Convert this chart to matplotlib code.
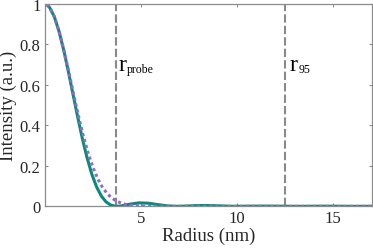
import matplotlib
matplotlib.use("Agg")
import matplotlib.pyplot as plt

# values
radius_airy = [0.1, 0.245, 0.49, 0.735, 0.98, 1.225, 1.47, 1.716, 1.96, 2.206, 2.45,
               2.696, 2.94, 3.186, 3.43, 3.676, 3.92, 4.41, 4.90, 5.39, 5.88, 6.37,
               6.86, 7.35, 7.84, 8.33, 8.82, 9.8, 11.39, 13.04, 14.5, 16.15, 17.0]
intensity_airy = [0.997, 0.984, 0.939, 0.867, 0.775, 0.667, 0.553, 0.440, 0.333, 0.238, 0.158,
                  0.096, 0.0511, 0.0220, 0.0062, 0.0003, 0.0011, 0.0105, 0.0172, 0.0154, 0.0085, 0.0022,
                  0.0, 0.0013, 0.0034, 0.0041, 0.0030, 0.0001, 0.0012, 0.0, 0.0007, 0.0, 0.0002]

radius_gauss = [0.1, 0.25, 0.5, 0.75, 1.0, 1.25, 1.5, 1.75, 2.0, 2.25, 2.5, 2.75, 3.0,
                3.25, 3.5, 3.75, 4.0, 4.25, 4.5, 5.0, 5.5, 6.0, 7.0, 17.0]
intensity_gauss = [0.997, 0.984, 0.937, 0.863, 0.769, 0.664, 0.554, 0.448, 0.350, 0.265, 0.194,
                   0.137, 0.094, 0.0625, 0.0401, 0.0249, 0.0150, 0.0087, 0.0049, 0.0014, 0.0004,
                   0.0001, 0.0, 0.0]

r_probe = 3.73
r_95 = 12.5
xticks = [5, 10, 15]
yticks = [0, 0.2, 0.4, 0.6, 0.8, 1]
ytick_labels = ["0", "0.2", "0.4", "0.6", "0.8", "1"]

plt.rcParams["font.family"] = ["Liberation Serif", "DejaVu Serif"]
axis_grey = "#8c8c8c"
text_col = "#262626"

fig = plt.figure(figsize=(3.73, 2.51), dpi=100)
ax = fig.add_axes([0.12, 0.174, 0.878, 0.806])

ax.axvline(r_probe, color="#8a8a8a", lw=1.5, ls=(0, (4, 1.5)))
ax.axvline(r_95, color="#8a8a8a", lw=1.5, ls=(0, (4, 1.5)))
ax.plot(radius_airy, intensity_airy, color="#0a8a7e", lw=2.2, solid_capstyle="round")
ax.plot(radius_gauss, intensity_gauss, color="#8e6cc6", lw=2.2, ls=(0, (1, 1)))

for xpos, sub in [(r_probe + 0.1, "probe"), (r_95 + 0.25, "95")]:
    ax.text(xpos, 0.673, "r", fontsize=17, color="black", ha="left", va="baseline")
    ax.annotate(sub, xy=(xpos, 0.673), xytext=(6, -1), textcoords="offset points",
                fontsize=8.5, color="black", ha="left", va="baseline")

ax.set_xlim(0, 17.03)
ax.set_ylim(0, 1)
ax.set_xticks(xticks)
ax.set_yticks(yticks)
ax.set_yticklabels(ytick_labels)
ax.tick_params(direction="in", length=2.5, width=0.8, color=axis_grey, labelcolor=text_col,
               labelsize=12, top=True, right=True, pad=3)
for s in ax.spines.values():
    s.set_color(axis_grey)
    s.set_linewidth(0.9)
ax.set_xlabel("Radius (nm)", fontsize=13.5, color=text_col, labelpad=0)
ax.set_ylabel("Intensity (a.u.)", fontsize=13.5, color=text_col, labelpad=2)

fig.savefig("out.png", dpi=100)
